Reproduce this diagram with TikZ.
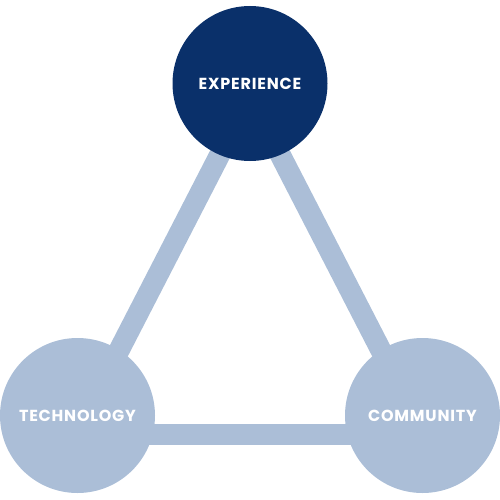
\documentclass[tikz,border=0pt]{standalone}
\usepackage{fontspec}
\newfontfamily\lblfont{Poppins}[LetterSpace=5]
\definecolor{navy}{HTML}{0A306A}
\definecolor{lightblue}{HTML}{ABBED7}
\begin{document}
\begin{tikzpicture}[x=1pt,y=-1pt,
  hub/.style={circle,minimum size=155pt,inner sep=0pt,text=white,font=\lblfont\bfseries\fontsize{16}{18}\selectfont},
  link/.style={draw=lightblue,line width=21pt}]
\useasboundingbox (0,0) rectangle (500,500);
\coordinate (ve) at (250,96);
\coordinate (vt) at (76,434);
\coordinate (vc) at (424,434);
\draw[link] (ve) -- (vt);
\draw[link] (ve) -- (vc);
\draw[link] (vt) -- (vc);
\node[hub,fill=navy] (exp) at (250,83.5) {EXPERIENCE};
\node[hub,fill=lightblue] (tech) at (77.5,415.5) {TECHNOLOGY};
\node[hub,fill=lightblue] (comm) at (422.5,415.5) {COMMUNITY};
\end{tikzpicture}
\end{document}
